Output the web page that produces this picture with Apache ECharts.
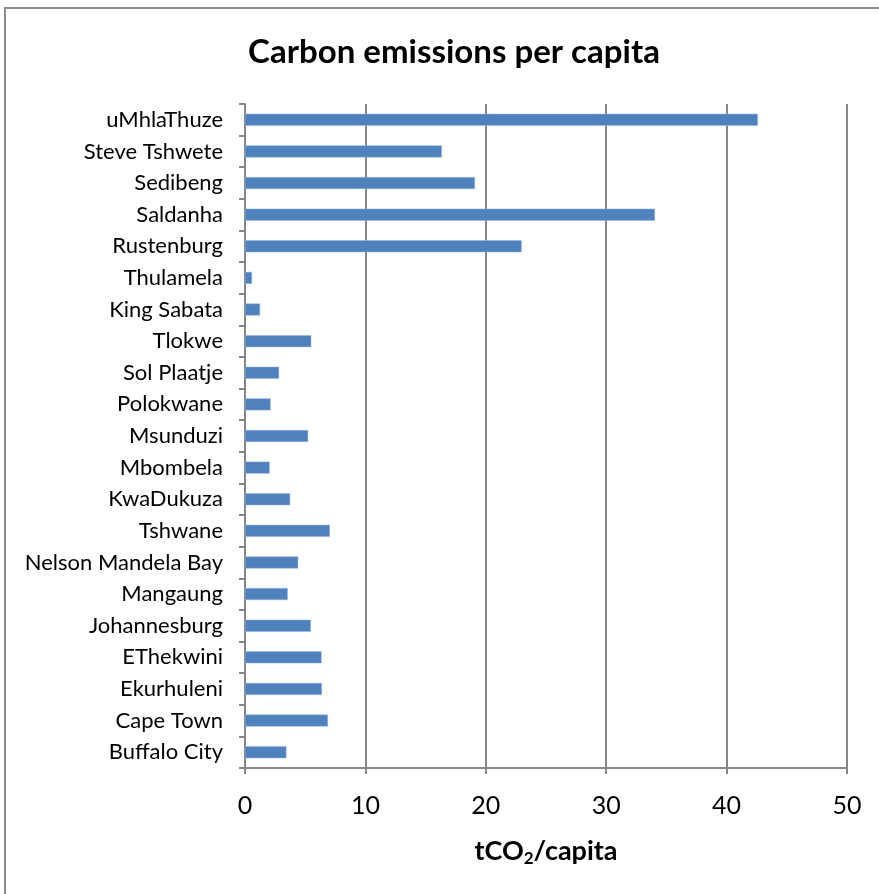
<!DOCTYPE html>
<html>
<head>
<meta charset="utf-8">
<script src="https://cdn.jsdelivr.net/npm/echarts@6/dist/echarts.min.js"></script>
<style>
html, body { margin: 0; padding: 0; background: #fff; }
#main { width: 879px; height: 894px; }
</style>
</head>
<body>
<div id="main"></div>
<script>
// municipalities, bottom to top as drawn
var cities = ['Buffalo City', 'Cape Town', 'Ekurhuleni', 'EThekwini', 'Johannesburg', 'Mangaung',
    'Nelson Mandela Bay', 'Tshwane', 'KwaDukuza', 'Mbombela', 'Msunduzi', 'Polokwane', 'Sol Plaatje',
    'Tlokwe', 'King Sabata', 'Thulamela', 'Rustenburg', 'Saldanha', 'Sedibeng', 'Steve Tshwete', 'uMhlaThuze'];
var perCapita = [3.44, 6.89, 6.39, 6.36, 5.47, 3.55, 4.42, 7.05, 3.75, 2.05, 5.24, 2.13, 2.83,
    5.5, 1.25, 0.58, 22.98, 34.05, 19.1, 16.35, 42.6];
var xTicks = [0, 10, 20, 30, 40, 50];

var font = 'Lato';
var gridColor = '#868686';

var myChart = echarts.init(document.getElementById('main'));
var option = {
    animation: false,
    backgroundColor: '#fff',
    title: {
        text: 'Carbon emissions per capita',
        left: 449, top: 31, textAlign: 'center',
        textStyle: { fontFamily: font, fontWeight: 'bold', fontSize: 33, color: '#000' }
    },
    graphic: [{
        type: 'rect', silent: true, z: -1,
        shape: { x: 5, y: 8, width: 900, height: 920 },
        style: { fill: 'none', stroke: '#8c8c8c', lineWidth: 2 }
    }],
    grid: { left: 245, right: 32, top: 104, bottom: 126 },
    xAxis: {
        type: 'value',
        min: xTicks[0], max: xTicks[xTicks.length - 1], interval: 10,
        name: '{b|tCO}{s|2}{b|/capita}',
        nameLocation: 'middle', nameGap: 68,
        nameTextStyle: {
            rich: {
                b: { fontFamily: font, fontWeight: 'bold', fontSize: 27, color: '#000' },
                s: { fontFamily: font, fontWeight: 'bold', fontSize: 17, color: '#000', padding: [14, 0, 0, 0] }
            }
        },
        axisLine: { show: true, lineStyle: { color: gridColor, width: 2 } },
        axisTick: { show: true, length: 6, lineStyle: { color: gridColor, width: 2 } },
        axisLabel: { fontFamily: font, fontSize: 25, color: '#000', margin: 25 },
        splitLine: { show: true, lineStyle: { color: gridColor, width: 2 } }
    },
    yAxis: {
        type: 'category',
        data: cities,
        axisLine: { show: true, lineStyle: { color: gridColor, width: 2 } },
        axisTick: { show: true, length: 6, lineStyle: { color: gridColor, width: 2 } },
        axisLabel: { fontFamily: font, fontSize: 22, color: '#000', margin: 22 }
    },
    series: [{
        type: 'bar',
        data: perCapita,
        barWidth: 12,
        itemStyle: { color: '#4f81bd', borderColor: '#9ab5da', borderWidth: 0.5 }
    }]
};
myChart.setOption(option);
</script>
</body>
</html>
